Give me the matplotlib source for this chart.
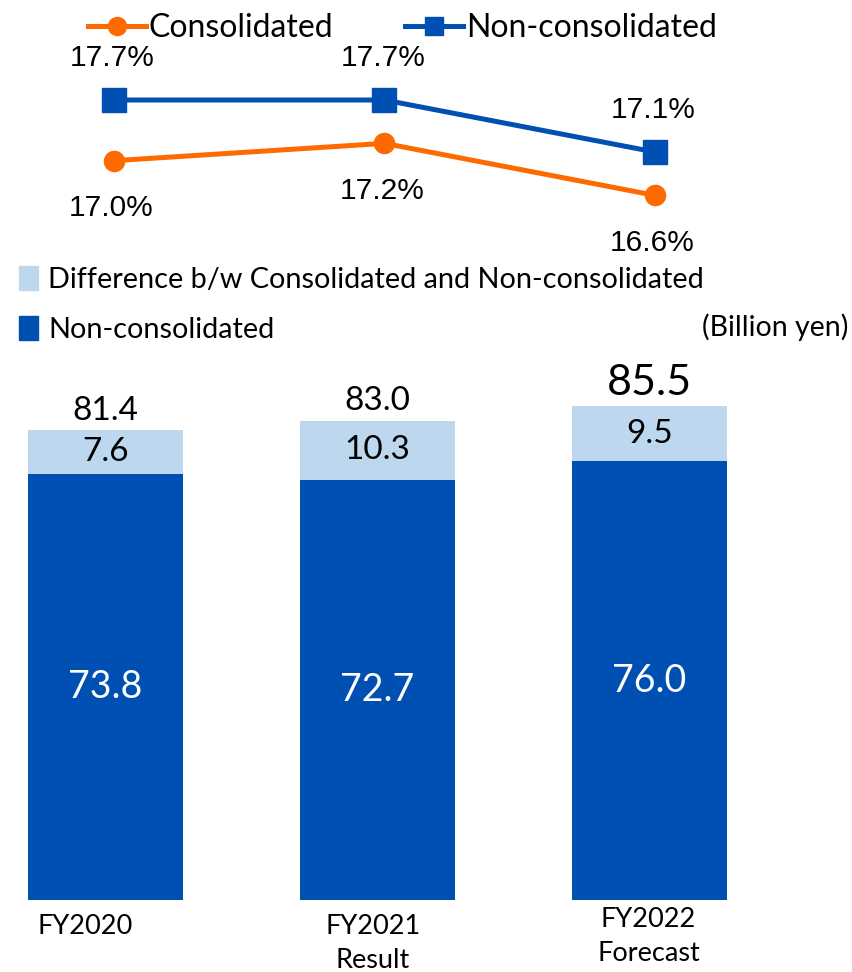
import matplotlib
matplotlib.use("Agg")
import matplotlib.pyplot as plt
import matplotlib.transforms as mtransforms
from matplotlib.lines import Line2D
from matplotlib.patches import Patch

# ---- data ----
categories = ["FY2020", "FY2021\nResult", "FY2022\nForecast"]
ratio_consolidated = [17.0, 17.2, 16.6]
ratio_nonconsolidated = [17.7, 17.7, 17.1]
nonconsolidated = [73.8, 72.7, 76.0]
difference = [7.6, 10.3, 9.5]
totals = [81.4, 83.0, 85.5]

ORANGE = "#FF6A00"
BLUE = "#0050B4"
LIGHT = "#BDD7EE"
FONT = ["Lato", "DejaVu Sans"]
PFONT = ["Liberation Sans", "DejaVu Sans"]

W, H = 852, 972
fig = plt.figure(figsize=(W / 100, H / 100), dpi=100)

# ---- line chart ----
ax1 = fig.add_axes([0, 1 - 260 / H, 1, 260 / H])
ax1.set_xlim(-0.421, 2.728)
ax1.set_ylim(15.855, 18.853)
ax1.axis("off")
x = list(range(len(categories)))
ax1.plot(x, ratio_nonconsolidated, color=BLUE, lw=3.6, marker="s", ms=17, label="Non-consolidated")
ax1.plot(x, ratio_consolidated, color=ORANGE, lw=3.6, marker="o", ms=14.5, label="Consolidated")
for xi, v in zip(x, ratio_nonconsolidated):
    ax1.annotate(f"{v:.1f}%", (xi, v), xytext=(-1, 20), textcoords="offset points",
                 ha="center", va="bottom", fontsize=21.5, family=PFONT)
for xi, v in zip(x, ratio_consolidated):
    ax1.annotate(f"{v:.1f}%", (xi, v), xytext=(-2, -24), textcoords="offset points",
                 ha="center", va="top", fontsize=21.5, family=PFONT)
h_cons = Line2D([], [], color=ORANGE, lw=3.6, marker="o", ms=13)
h_non = Line2D([], [], color=BLUE, lw=3.6, marker="s", ms=13)
fig.legend([h_cons, h_non], ["Consolidated", "Non-consolidated"], loc="center left",
           bbox_to_anchor=(88 / W, 1 - 28 / H), ncol=2, frameon=False,
           handlelength=1.8, handletextpad=0.1, columnspacing=2.25,
           prop={"family": FONT, "size": 23}, borderaxespad=0, borderpad=0)

# ---- bar chart ----
ax2 = fig.add_axes([0, 72 / H, 1, 540 / H])
ax2.set_xlim(-0.388, 2.744)
ax2.set_ylim(0, 93.5)
bw = 0.57
ax2.bar(x, nonconsolidated, width=bw, color=BLUE)
ax2.bar(x, difference, width=bw, bottom=nonconsolidated, color=LIGHT)
for xi, n, d, t in zip(x, nonconsolidated, difference, totals):
    ax2.text(xi, n / 2, f"{n:.1f}", ha="center", va="center", color="white",
             fontsize=27, family=FONT)
    ax2.text(xi, n + d / 2, f"{d:.1f}", ha="center", va="center", color="black",
             fontsize=24, family=FONT)
sizes = [24, 24, 31]
for xi, t, s in zip(x, totals, sizes):
    ax2.annotate(f"{t:.1f}", (xi, t), xytext=(0, 3), textcoords="offset points",
                 ha="center", va="bottom", fontsize=s, family=FONT)
for s in ax2.spines.values():
    s.set_visible(False)
ax2.set_yticks([])
ax2.set_xticks(x)
ax2.set_xticklabels(categories, family=FONT, fontsize=19.5, linespacing=1.45)
ax2.tick_params(axis="x", length=0, pad=10)
label_shift = [(-20, 0), (-5, 0), (-1, 7)]
for lab, (dx, dy) in zip(ax2.get_xticklabels(), label_shift):
    lab.set_transform(lab.get_transform() +
                      mtransforms.ScaledTranslation(dx / 100, dy / 100, fig.dpi_scale_trans))

fig.legend([Patch(color=LIGHT), Patch(color=BLUE)],
           ["Difference b/w Consolidated and Non-consolidated", "Non-consolidated"],
           loc="upper left", bbox_to_anchor=(19 / W, 1 - 266 / H), frameon=False,
           handlelength=0.65, handleheight=0.9, handletextpad=0.35, labelspacing=0.8,
           prop={"family": FONT, "size": 20.8}, borderaxespad=0, borderpad=0)
fig.text(848 / W, 1 - 327 / H, "(Billion yen)", ha="right", va="center",
         fontsize=20.5, family=FONT)

fig.savefig("out.png", dpi=100)
